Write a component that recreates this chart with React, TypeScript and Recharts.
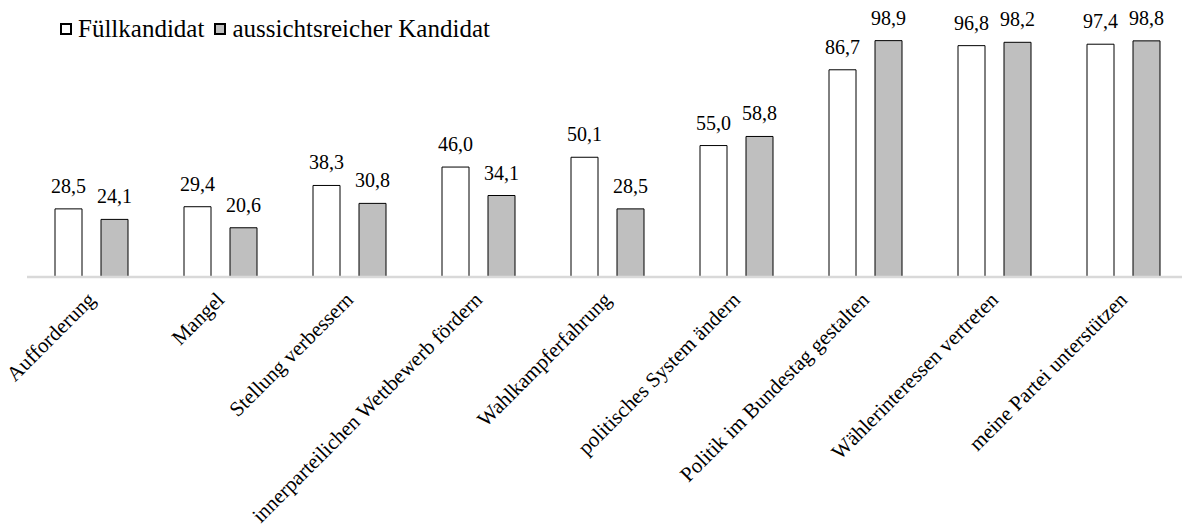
import { BarChart, Bar, XAxis, YAxis, LabelList } from 'recharts'

const categories = [
  'Aufforderung',
  'Mangel',
  'Stellung verbessern',
  'innerparteilichen Wettbewerb fördern',
  'Wahlkampferfahrung',
  'politisches System ändern',
  'Politik im Bundestag gestalten',
  'Wählerinteressen vertreten',
  'meine Partei unterstützen',
]
const fuellkandidat = [28.5, 29.4, 38.3, 46.0, 50.1, 55.0, 86.7, 96.8, 97.4]
const aussichtsreich = [24.1, 20.6, 30.8, 34.1, 28.5, 58.8, 98.9, 98.2, 98.8]
const seriesNames = ['Füllkandidat', 'aussichtsreicher Kandidat']

const data = categories.map((name, i) => ({
  name,
  fuell: fuellkandidat[i],
  aussicht: aussichtsreich[i],
}))

const FONT = '"Liberation Serif", "Times New Roman", serif'

const fmt = (v: any) => Number(v).toFixed(1).replace('.', ',')

function CategoryTick(props: any) {
  const { x, y, payload } = props
  return (
    <g transform={`translate(${x},${y})`}>
      <text
        x={0}
        y={0}
        transform="translate(5,24) rotate(-45)"
        textAnchor="end"
        fontSize={21}
        fontFamily={FONT}
        fill="#000"
      >
        {payload.value}
      </text>
    </g>
  )
}

function ValueLabel(props: any) {
  const { x, y, width, value } = props
  return (
    <text
      x={x + width / 2}
      y={y - 16}
      textAnchor="middle"
      fontSize={20}
      fontFamily={FONT}
      fill="#000"
    >
      {fmt(value)}
    </text>
  )
}

function LegendBox() {
  const item = (label: string, fill: string, gapAfter: number) => (
    <span style={{ display: 'inline-flex', alignItems: 'center', marginRight: gapAfter }}>
      <span
        style={{
          display: 'inline-block',
          width: 8,
          height: 8,
          border: '2.5px solid #000',
          background: fill,
          marginRight: 6,
        }}
      />
      <span>{label}</span>
    </span>
  )
  return (
    <div
      style={{
        position: 'absolute',
        top: 13,
        left: 60,
        fontFamily: FONT,
        fontSize: 25,
        color: '#000',
        lineHeight: '28px',
        whiteSpace: 'nowrap',
      }}
    >
      {item(seriesNames[0], '#fff', 10)}
      {item(seriesNames[1], '#bfbfbf', 0)}
    </div>
  )
}

export default function App() {
  return (
    <div
      style={{
        position: 'absolute',
        left: 0,
        top: 0,
        width: 1182,
        height: 529,
        overflow: 'hidden',
        background: '#fff',
        fontFamily: FONT,
      }}
    >
      <BarChart
        width={1188}
        height={529}
        data={data}
        margin={{ top: 38, right: 0, bottom: 0, left: 27 }}
        barSize={27}
        barGap={19}
      >
        <XAxis
          dataKey="name"
          height={252}
          interval={0}
          axisLine={{ stroke: '#d9d9d9', strokeWidth: 2.5 }}
          tickLine={false}
          tickSize={0}
          tickMargin={0}
          tick={<CategoryTick />}
        />
        <YAxis hide domain={[0, 100]} />
        <Bar dataKey="fuell" name={seriesNames[0]} fill="#ffffff" stroke="#000" strokeWidth={1} isAnimationActive={false}>
          <LabelList dataKey="fuell" content={<ValueLabel />} />
        </Bar>
        <Bar dataKey="aussicht" name={seriesNames[1]} fill="#bfbfbf" stroke="#000" strokeWidth={1} isAnimationActive={false}>
          <LabelList dataKey="aussicht" content={<ValueLabel />} />
        </Bar>
      </BarChart>
      <LegendBox />
    </div>
  )
}
